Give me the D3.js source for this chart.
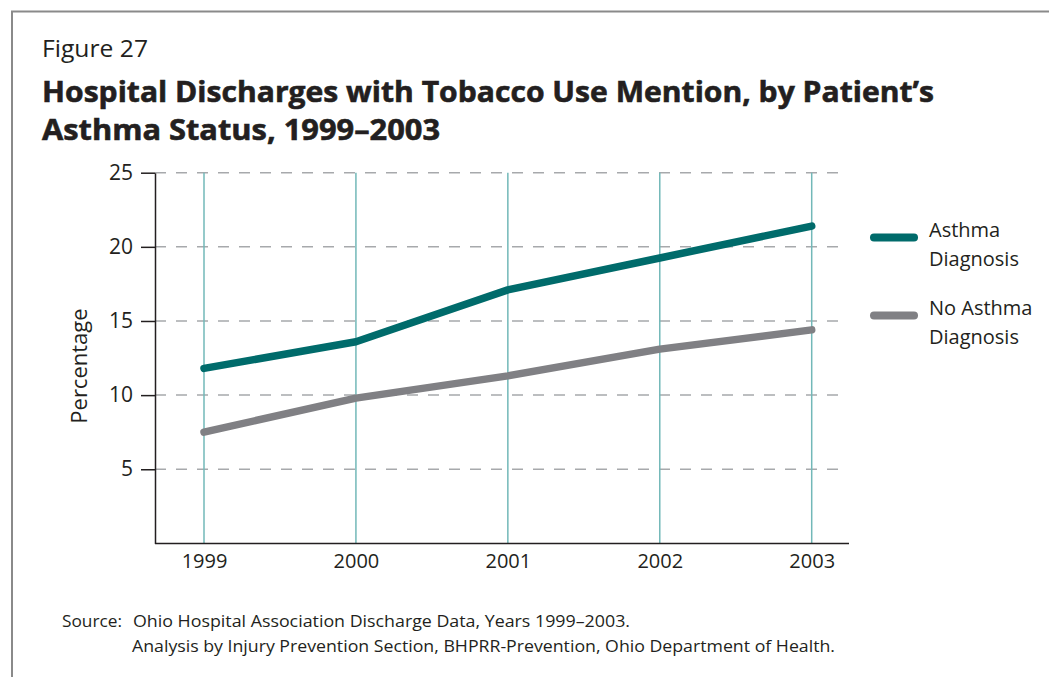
<!DOCTYPE html>
<html>
<head>
<meta charset="utf-8">
<script src="https://cdn.jsdelivr.net/npm/d3@7"></script>
<style>
  html, body { margin: 0; padding: 0; background: #ffffff; }
  svg { display: block; }
  text { font-family: "Open Sans", "Noto Sans", sans-serif; fill: #231f20; }
</style>
</head>
<body>
<svg id="chart" width="1049" height="677"></svg>
<script>
// Chart data
const years = [1999, 2000, 2001, 2002, 2003];
const asthmaValues = [11.8, 13.6, 17.1, 19.25, 21.4];
const noAsthmaValues = [7.5, 9.8, 11.3, 13.1, 14.4];
const yTickValues = [5, 10, 15, 20, 25];
const seriesNames = ["Asthma Diagnosis", "No Asthma Diagnosis"];

const svg = d3.select("#chart");

// Frame lines (top and left)
svg.append("path")
  .attr("d", "M12,677 L12,11.5 L1049,11.5")
  .attr("fill", "none")
  .attr("stroke", "#8a8a8a")
  .attr("stroke-width", 2);

// Headings
svg.append("text")
  .attr("x", 42).attr("y", 57)
  .attr("font-size", 24)
  .attr("textLength", 106).attr("lengthAdjust", "spacingAndGlyphs")
  .text("Figure 27");

const titleLines = [
  { t: "Hospital Discharges with Tobacco Use Mention, by Patient\u2019s", y: 102, w: 892 },
  { t: "Asthma Status, 1999\u20132003", y: 140, w: 398 }
];
titleLines.forEach(l => {
  svg.append("text")
    .attr("x", 42).attr("y", l.y)
    .attr("font-size", 29).attr("font-weight", 700)
    .attr("stroke", "#231f20").attr("stroke-width", 0.6)
    .attr("textLength", l.w).attr("lengthAdjust", "spacingAndGlyphs")
    .text(l.t);
});

// Scales
const x = d3.scaleLinear().domain([1999, 2003]).range([204, 811.7]);
const y = d3.scaleLinear().domain([0, 25]).range([543.4, 172.7]);
const plotLeft = 155, plotRight = 849;

// Horizontal dashed gridlines
svg.append("g")
  .selectAll("line")
  .data(yTickValues)
  .join("line")
  .attr("x1", plotLeft).attr("x2", 847)
  .attr("y1", d => y(d)).attr("y2", d => y(d))
  .attr("stroke", "#a7a9ac")
  .attr("stroke-width", 1.5)
  .attr("stroke-dasharray", "11,10");

// Vertical year lines
svg.append("g")
  .selectAll("line")
  .data(years)
  .join("line")
  .attr("x1", d => x(d)).attr("x2", d => x(d))
  .attr("y1", y(25)).attr("y2", y(0))
  .attr("stroke", "#72b8b8")
  .attr("stroke-width", 1.5);

// Y axis
const yAxis = svg.append("g")
  .attr("transform", `translate(${plotLeft},0)`)
  .call(d3.axisLeft(y).tickValues(yTickValues).tickSize(14).tickSizeOuter(0).tickPadding(8));
yAxis.select(".domain").attr("stroke", "#231f20").attr("stroke-width", 1.5);
yAxis.selectAll(".tick line").attr("stroke", "#231f20").attr("stroke-width", 1.5);
yAxis.selectAll(".tick text")
  .attr("font-size", 21).attr("font-family", "Open Sans, sans-serif").attr("fill", "#231f20");

// X axis
const xAxis = svg.append("g")
  .attr("transform", `translate(0,${y(0)})`)
  .call(d3.axisBottom(x).tickValues(years).tickFormat(d3.format("d")).tickSize(0).tickPadding(10));
xAxis.select(".domain").remove();
xAxis.append("line")
  .attr("x1", plotLeft).attr("x2", plotRight)
  .attr("y1", 0).attr("y2", 0)
  .attr("stroke", "#231f20").attr("stroke-width", 1.5);
xAxis.selectAll(".tick text")
  .attr("font-size", 20).attr("font-family", "Open Sans, sans-serif").attr("fill", "#231f20");

// Y axis title
svg.append("text")
  .attr("transform", `translate(87,${(y(0) + y(25)) / 2 + 8}) rotate(-90)`)
  .attr("text-anchor", "middle")
  .attr("font-size", 22)
  .text("Percentage");

// Series lines
const line = d3.line().x((d, i) => x(years[i])).y(d => y(d));
const series = [
  { name: seriesNames[0], values: asthmaValues, color: "#006b6b" },
  { name: seriesNames[1], values: noAsthmaValues, color: "#808084" }
];
svg.append("g")
  .selectAll("path")
  .data(series)
  .join("path")
  .attr("d", d => line(d.values))
  .attr("fill", "none")
  .attr("stroke", d => d.color)
  .attr("stroke-width", 7.5)
  .attr("stroke-linecap", "round")
  .attr("stroke-linejoin", "round");

// Legend
const legend = svg.append("g");
const legendRows = [
  { lines: ["Asthma", "Diagnosis"], color: series[0].color, y: 237.5 },
  { lines: ["No Asthma", "Diagnosis"], color: series[1].color, y: 315.5 }
];
legendRows.forEach(r => {
  legend.append("line")
    .attr("x1", 874).attr("x2", 914)
    .attr("y1", r.y).attr("y2", r.y)
    .attr("stroke", r.color)
    .attr("stroke-width", 8)
    .attr("stroke-linecap", "round");
  r.lines.forEach((t, i) => {
    legend.append("text")
      .attr("x", 929).attr("y", r.y - 1 + i * 29)
      .attr("font-size", 20)
      .text(t);
  });
});

// Source note
svg.append("text")
  .attr("x", 62).attr("y", 627)
  .attr("font-size", 16)
  .attr("textLength", 60).attr("lengthAdjust", "spacingAndGlyphs")
  .text("Source:");
svg.append("text")
  .attr("x", 133).attr("y", 627)
  .attr("font-size", 16)
  .attr("textLength", 497).attr("lengthAdjust", "spacingAndGlyphs")
  .text("Ohio Hospital Association Discharge Data, Years 1999\u20132003.");
svg.append("text")
  .attr("x", 132).attr("y", 652)
  .attr("font-size", 16)
  .attr("textLength", 703).attr("lengthAdjust", "spacingAndGlyphs")
  .text("Analysis by Injury Prevention Section, BHPRR-Prevention, Ohio Department of Health.");
</script>
</body>
</html>
